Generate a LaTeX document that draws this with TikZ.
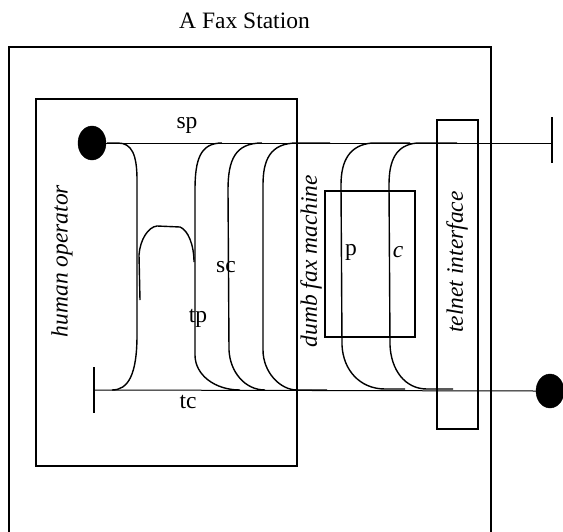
\documentclass[tikz,border=0pt]{standalone}
\usepackage{fontspec}
\setmainfont{Liberation Serif}
\usetikzlibrary{shapes.geometric}
\begin{document}
\begin{tikzpicture}[x=1pt,y=-1pt,
  lbl/.style={font=\fontsize{23.5}{28}\selectfont, inner sep=0pt},
  ilbl/.style={lbl, font=\fontsize{23.5}{28}\selectfont\itshape},
  vlbl/.style={ilbl, rotate=90},
  box/.style={draw, line width=1.4pt},
  wire/.style={draw, line width=1pt},
  sig/.style={draw, line width=1.4pt},
  dot/.style={ellipse, fill=black, draw=black, minimum width=28pt, minimum height=34pt, inner sep=0pt},
  bar/.style={draw, line width=1.6pt}]
\useasboundingbox (0,0) rectangle (563,531);
\clip (0,0) rectangle (563,531);
% title
\node[lbl, anchor=base] (title) at (244.5,28) {A Fax Station};
% outer station box (bottom edge beyond picture)
\coordinate (oBL) at (9,540);
\coordinate (oTL) at (9,47);
\coordinate (oTR) at (491,47);
\coordinate (oBR) at (491,540);
\draw[box] (oBL) -- (oTL) -- (oTR) -- (oBR);
% human operator box
\coordinate (hTL) at (36,99);
\coordinate (hBR) at (297,466);
\draw[box] (hTL) rectangle (hBR);
% p/c box
\coordinate (pTL) at (325,191);
\coordinate (pBR) at (415,337);
\draw[box] (pTL) rectangle (pBR);
% telnet box
\coordinate (tTL) at (437,120);
\coordinate (tBR) at (478,429);
\draw[box] (tTL) rectangle (tBR);
% labels
\node[vlbl] (hum) at (62,261) {human operator};
\node[vlbl] (dfm) at (311,261) {dumb fax machine};
\node[vlbl] (tel) at (457,262) {telnet interface};
\node[lbl] (sp) at (187,125) {sp};
\node[lbl] (tc) at (188,402) {tc};
\node[lbl] (sc) at (226,267) {sc};
\node[lbl] (tp) at (198,318) {tp};
\node[lbl] (p) at (351,252) {p};
\node[ilbl] (c) at (398,252) {c};
% endpoints
\node[dot] (dotL) at (92,143) {};
\node[dot] (dotR) at (550,391) {};
\coordinate (barRt) at (552,117);
\coordinate (barRb) at (552,163);
\coordinate (barR) at (552,143);
\coordinate (barLt) at (94,367);
\coordinate (barLb) at (94,413);
\coordinate (barL) at (94,390);
\draw[bar] (barRt) -- (barRb);
\draw[bar] (barLt) -- (barLb);
\draw[wire] (dotL.east) -- (barR);
\draw[wire] (barL) -- (dotR.west);
% signal curves, human operator side
\draw[sig] (107,143) -- (118,143) .. controls (132,143) and (137,155) .. (137,180) -- (137,335) .. controls (137,375) and (128,390) .. (112,390);
\draw[sig] (140,300) -- (139,255) .. controls (140,240) and (148,227) .. (157,226) -- (180,227) .. controls (188,230) and (194,245) .. (194,262);
\draw[sig] (222,143) .. controls (200,143) and (195,160) .. (195,190) -- (195,355) .. controls (195,375) and (215,390) .. (240,390);
\draw[sig] (262,143) .. controls (235,143) and (228,160) .. (228,190) -- (229,350) .. controls (230,372) and (245,390) .. (265,390);
\draw[sig] (330,143) -- (297,143) .. controls (270,143) and (263,160) .. (263,185) -- (263,350) .. controls (263,372) and (280,390) .. (297,390) -- (327,390);
% signal curves, fax machine side
\draw[sig] (410,143) -- (372,143) .. controls (350,145) and (341,160) .. (341,185) -- (342,345) .. controls (343,370) and (360,389) .. (385,389) -- (405,389);
\draw[sig] (457,143) -- (417,143) .. controls (396,145) and (389,160) .. (389,185) -- (390,345) .. controls (391,370) and (405,389) .. (427,389) -- (453,389);
\end{tikzpicture}
\end{document}
